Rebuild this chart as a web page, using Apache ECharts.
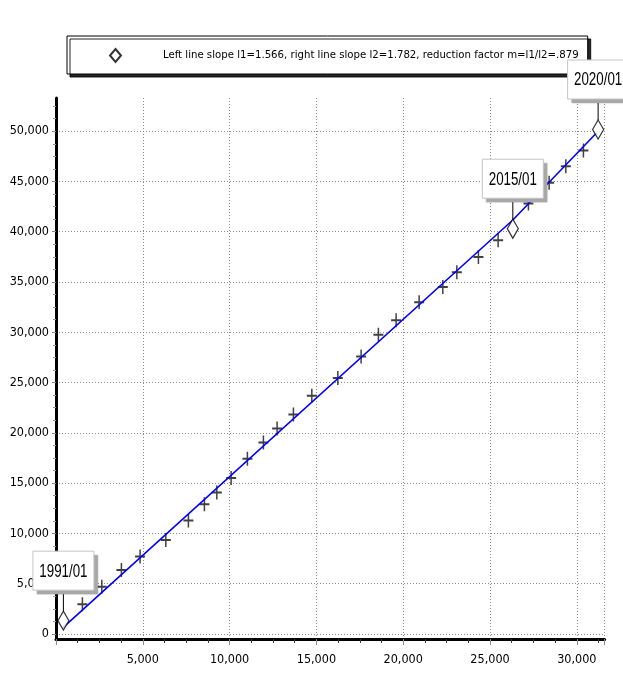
<!DOCTYPE html>
<html>
<head>
<meta charset="utf-8">
<style>
  html, body { margin: 0; padding: 0; background: #fff; }
  #chart { width: 623px; height: 692px; }
</style>
<script src="https://cdn.jsdelivr.net/npm/echarts@6/dist/echarts.min.js"></script>
</head>
<body>
<div id="chart"></div>
<script>
// Cumulative double-mass data, one point per year (January)
const years = [1991, 1992, 1993, 1994, 1995, 1996, 1997, 1998, 1999, 2000,
               2001, 2002, 2003, 2004, 2005, 2006, 2007, 2008, 2009, 2010,
               2011, 2012, 2013, 2014, 2015, 2016, 2017, 2018, 2019, 2020];
const cumX = [426, 1521, 2638, 3767, 4844, 6325, 7627, 8548, 9263, 10087,
              11025, 11947, 12736, 13675, 14735, 16233, 17575, 18571, 19591, 20916,
              22281, 23088, 24332, 25467, 26313, 27212, 28405, 29366, 30380, 31227];
const cumY = [1324, 2956, 4708, 6371, 7695, 9357, 11278, 12911, 14065, 15499,
              17420, 19042, 20436, 21830, 23691, 25453, 27603, 29763, 31187, 32978,
              34511, 35964, 37497, 39150, 40300, 42803, 44864, 46516, 48079, 50169];

// Highlighted points (start, break point, end)
const calloutYears = [1991, 2015, 2020];
const calloutLabels = ['1991/01', '2015/01', '2020/01'];

// Fitted broken line: left segment, then right segment
const lineX = [386, 26313, 31146];
const lineY = [600, 41170, 49850];

const legendText = 'Left line slope l1=1.566, right line slope l2=1.782, reduction factor m=l1/l2=.879';

// Axis ticks
const xTicks = [5000, 10000, 15000, 20000, 25000, 30000];
const yTicks = [0, 5000, 10000, 15000, 20000, 25000, 30000, 35000, 40000, 45000, 50000];
const yMinorTicks = [1250, 2500, 3750, 6250, 7500, 8750, 11250, 12500, 13750,
                     16250, 17500, 18750, 21250, 22500, 23750, 26250, 27500, 28750,
                     31250, 32500, 33750, 36250, 37500, 38750, 41250, 42500, 43750,
                     46250, 47500, 48750, 51250, 52500];

const FONT = "'DejaVu Sans Condensed', 'Liberation Sans Narrow', 'Liberation Sans', Arial, sans-serif";

function commas(v) {
  return String(Math.round(v)).replace(/\B(?=(\d{3})+(?!\d))/g, ',');
}

const crossPts = [];
const diamondPts = [];
years.forEach((yr, i) => {
  if (calloutYears.indexOf(yr) >= 0) diamondPts.push([cumX[i], cumY[i]]);
  else crossPts.push([cumX[i], cumY[i]]);
});
const linePts = lineX.map((x, i) => [x, lineY[i]]);

const gridLine = { show: true, lineStyle: { color: '#8c8c8c', width: 1, type: [1, 2] } };

// Callout box with leader line above a highlighted point
function renderCallout(params, api) {
  const pt = api.coord([api.value(0), api.value(1)]);
  const w = 61, h = 39, gap = 21, half = 9.5;
  const bx = pt[0] - w / 2;
  const by = pt[1] - half - gap - h;
  return {
    type: 'group',
    children: [
      { type: 'line', shape: { x1: pt[0], y1: by + h, x2: pt[0], y2: pt[1] - half },
        style: { stroke: '#000', lineWidth: 1 } },
      { type: 'rect', shape: { x: bx + 4, y: by + 4, width: w, height: h },
        style: { fill: '#a8a8a8', shadowBlur: 2, shadowColor: 'rgba(0,0,0,0.25)' } },
      { type: 'rect', shape: { x: bx, y: by, width: w, height: h },
        style: { fill: '#ffffff', stroke: '#c4c4c4', lineWidth: 1 } },
      { type: 'text', x: pt[0], y: by + h / 2 + 1, scaleX: 0.74,
        style: { text: calloutLabels[params.dataIndex], font: "18px 'Liberation Sans', Arial, sans-serif",
                 fill: '#000', align: 'center', verticalAlign: 'middle' } }
    ]
  };
}

const chart = echarts.init(document.getElementById('chart'), null, { renderer: 'canvas' });
chart.setOption({
  animation: false,
  backgroundColor: '#ffffff',
  legend: {
    left: 67,
    top: 36,
    padding: [12, 9, 11, 42],
    itemWidth: 11,
    itemHeight: 13,
    backgroundColor: '#ffffff',
    borderColor: '#000',
    borderWidth: 1,
    shadowColor: 'rgba(0,0,0,0.85)',
    shadowBlur: 0,
    shadowOffsetX: 3,
    shadowOffsetY: 3,
    data: [legendText],
    formatter: name => '{g|}{t|' + name + '}',
    textStyle: {
      rich: {
        g: { width: 37 },
        t: { fontFamily: FONT, fontSize: 11.3, color: '#000' }
      }
    }
  },
  grid: { left: 56, right: 18.4, top: 98, bottom: 53, containLabel: false },
  xAxis: {
    type: 'value',
    min: 0,
    max: 31600,
    interval: 5000,
    axisLine: { onZero: false, lineStyle: { color: '#000', width: 3 } },
    axisTick: { show: true, inside: false, length: 6, lineStyle: { color: '#888' } },
    minorTick: { show: true, splitNumber: 4, length: 4, lineStyle: { color: '#333' } },
    axisLabel: {
      margin: 14,
      fontFamily: FONT,
      fontSize: 12.5,
      color: '#000',
      formatter: v => (xTicks.indexOf(v) >= 0 ? commas(v) : '')
    },
    splitLine: gridLine
  },
  yAxis: [
    {
      type: 'value',
      min: -500,
      max: 53300,
      axisLine: { show: true, onZero: false, lineStyle: { color: '#000', width: 3 } },
      axisTick: { show: true, customValues: yTicks, length: 4, lineStyle: { color: '#888' } },
      axisLabel: {
        customValues: yTicks,
        margin: 7,
        fontFamily: FONT,
        fontSize: 12.5,
        color: '#000',
        formatter: v => commas(v)
      },
      splitLine: gridLine
    },
    {
      type: 'value',
      min: -500,
      max: 53300,
      position: 'left',
      axisLine: { show: false, onZero: false },
      axisTick: { show: true, customValues: yMinorTicks, length: 3, lineStyle: { color: '#999' } },
      axisLabel: { show: false },
      splitLine: { show: false }
    }
  ],
  series: [
    {
      name: 'yearly',
      type: 'scatter',
      symbol: 'path://M0,6L10,6L10,8L0,8Z M4.25,0L5.75,0L5.75,14L4.25,14Z',
      symbolSize: [10, 14],
      itemStyle: { color: '#111' },
      data: crossPts,
      z: 2
    },
    {
      name: 'fit',
      type: 'line',
      data: linePts,
      symbol: 'none',
      lineStyle: { color: '#0000ff', width: 1.6 },
      z: 3
    },
    {
      name: legendText,
      type: 'scatter',
      symbol: 'diamond',
      symbolSize: [11, 19],
      itemStyle: { color: '#fff', borderColor: '#000', borderWidth: 1.3 },
      data: diamondPts,
      z: 4
    },
    {
      name: 'callouts',
      type: 'custom',
      data: diamondPts,
      renderItem: renderCallout,
      silent: true,
      z: 5
    }
  ]
});
</script>
</body>
</html>
